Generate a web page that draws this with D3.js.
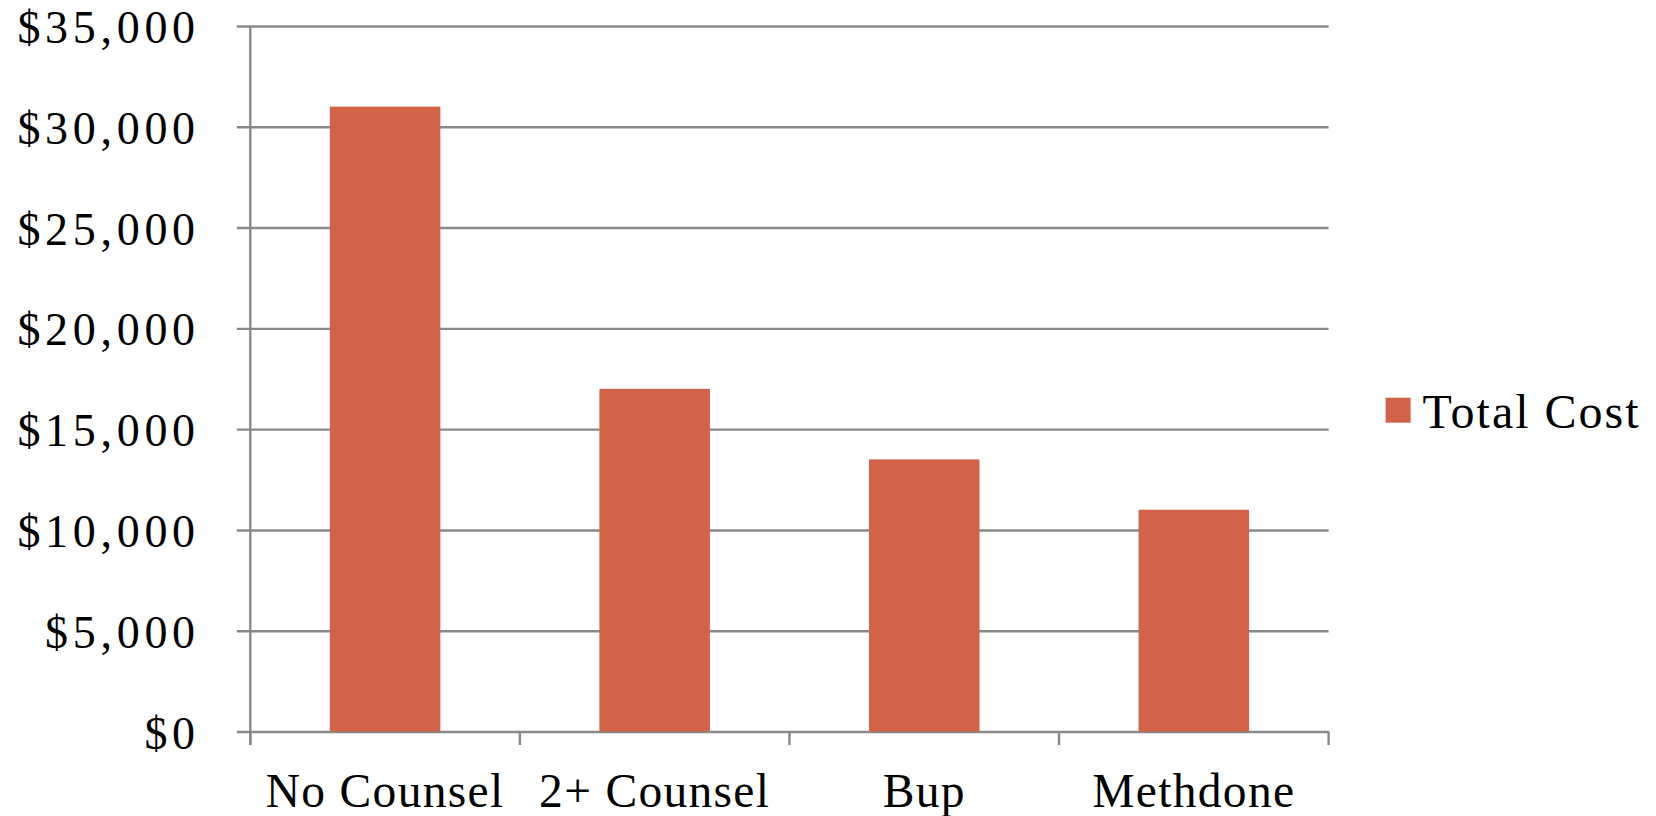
<!DOCTYPE html>
<html>
<head>
<meta charset="utf-8">
<script src="https://cdn.jsdelivr.net/npm/d3@7"></script>
<style>
  html, body { margin: 0; padding: 0; background: #ffffff; }
  svg { display: block; }
  text { font-family: "Liberation Serif", "Times New Roman", serif; fill: #000; }
</style>
</head>
<body>
<svg id="chart" width="1656" height="816"></svg>
<script>
const categories = ["No Counsel", "2+ Counsel", "Bup", "Methdone"];
const totalCost = [31000, 17000, 13500, 11000];
const seriesName = "Total Cost";
const yTicks = [0, 5000, 10000, 15000, 20000, 25000, 30000, 35000];

const W = 1656, H = 816;
const plot = { left: 250.3, right: 1328.6, top: 26, bottom: 731.5 };
const gridColor = "#898989";
const barColor = "#D16349";

const svg = d3.select("#chart");

const x = d3.scaleBand()
  .domain(categories)
  .range([plot.left, plot.right])
  .paddingInner(0.59)
  .paddingOuter(0.295);

const y = d3.scaleLinear()
  .domain([0, 35000])
  .range([plot.bottom, plot.top]);

const fmt = v => "$" + d3.format(",")(v);

// horizontal gridlines (with left tick stubs)
const yAxis = d3.axisLeft(y)
  .tickValues(yTicks)
  .tickSize(-(plot.right - plot.left))
  .tickFormat(fmt);

const gy = svg.append("g")
  .attr("transform", `translate(${plot.left},0)`)
  .call(yAxis);
gy.select(".domain").remove();
gy.selectAll(".tick line")
  .attr("x1", -13.5)
  .attr("stroke", gridColor)
  .attr("stroke-width", 2.4);
gy.selectAll(".tick text")
  .attr("x", -50.5)
  .attr("dy", "0.36em")
  .attr("font-size", 46)
  .style("letter-spacing", "4.7px")
  .attr("font-family", "Liberation Serif")
  .attr("fill", "#000");

// vertical axis line
svg.append("line")
  .attr("x1", plot.left).attr("x2", plot.left)
  .attr("y1", plot.top).attr("y2", plot.bottom + 13.5)
  .attr("stroke", gridColor).attr("stroke-width", 2.4);

// bars
svg.append("g").selectAll("rect")
  .data(categories.map((c, i) => ({ c, v: totalCost[i] })))
  .join("rect")
  .attr("x", d => x(d.c))
  .attr("width", x.bandwidth())
  .attr("y", d => y(d.v))
  .attr("height", d => y(0) - y(d.v))
  .attr("fill", barColor);

// category boundary ticks
const bounds = d3.range(categories.length + 1).map(i => plot.left + i * (plot.right - plot.left) / categories.length);
svg.append("g").selectAll("line")
  .data(bounds)
  .join("line")
  .attr("x1", d => d).attr("x2", d => d)
  .attr("y1", plot.bottom).attr("y2", plot.bottom + 13.5)
  .attr("stroke", gridColor).attr("stroke-width", 2.4);

// category labels
svg.append("g").selectAll("text")
  .data(categories)
  .join("text")
  .attr("x", d => x(d) + x.bandwidth() / 2)
  .attr("y", 807)
  .attr("text-anchor", "middle")
  .attr("font-size", 47.5)
  .style("letter-spacing", "1.3px")
  .text(d => d);

// legend
const lg = svg.append("g").attr("transform", "translate(1385.6,397.7)");
lg.append("rect").attr("width", 25).attr("height", 25).attr("fill", barColor);
lg.append("text")
  .attr("x", 37)
  .attr("y", 30.6)
  .attr("font-size", 48)
  .style("letter-spacing", "2px")
  .text(seriesName);
</script>
</body>
</html>
